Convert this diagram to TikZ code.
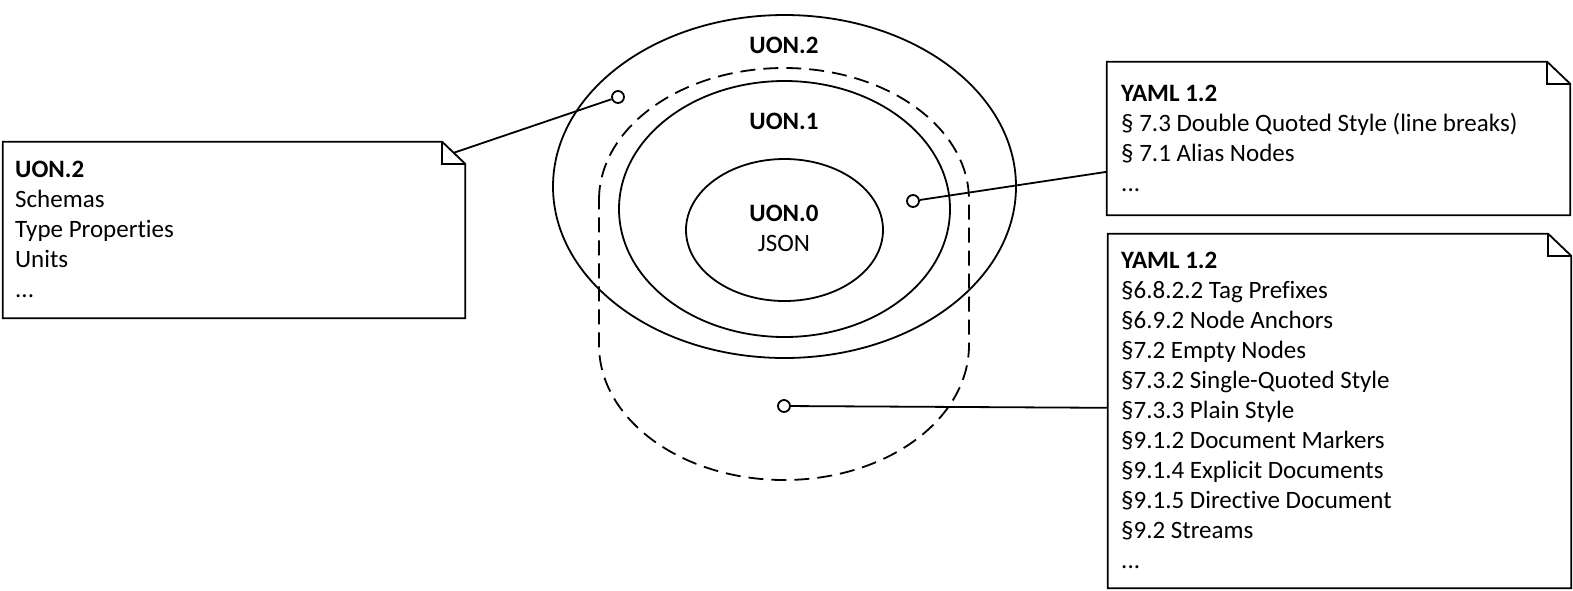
\documentclass[tikz,border=0pt]{standalone}
\usepackage{fontspec}
\setmainfont{Carlito}[Ligatures=NoCommon]
\usetikzlibrary{shapes.geometric,calc}
\tikzset{
  ln/.style={line width=1.8pt, black},
  notebox/.style={draw=none, rectangle, inner sep=0pt},
  oval/.style={ln, draw, ellipse, inner sep=0pt},
  marker/.style={ln, draw, circle, fill=white, minimum size=12pt, inner sep=0pt},
  notetext/.style={anchor=north west, inner sep=0pt, align=left, font=\fontsize{25}{30}\selectfont},
  lbl/.style={anchor=base, inner sep=0pt, font=\fontsize{25}{30}\selectfont},
}
\newcommand\noteoutline[1]{%
  \draw[ln, line join=miter] (#1.north west) -- ([xshift=-23pt]#1.north east) -- ([yshift=-22pt]#1.north east) -- (#1.south east) -- (#1.south west) -- cycle;
  \draw[ln] ([xshift=-23pt]#1.north east) |- ([yshift=-22pt]#1.north east);}
\begin{document}
\begin{tikzpicture}[x=1pt,y=1pt]
\useasboundingbox (0,0) rectangle (1573,-590);
% ellipses
\node[oval, minimum width=463pt, minimum height=343pt] (e2) at (784.5,-186.5) {};
\node[oval, minimum width=331pt, minimum height=256pt] (e1) at (784.5,-209) {};
\node[oval, minimum width=197pt, minimum height=142pt] (e0) at (784.5,-230) {};
% dashed region
\draw[ln, dash pattern=on 15pt off 8pt] (599,-200) arc[start angle=180, end angle=0, x radius=185, y radius=132]
  -- (969,-345) arc[start angle=0, end angle=-180, x radius=185, y radius=135] -- cycle;
% labels
\node[lbl] (l2) at (784,-53) {\textbf{UON.2}};
\node[lbl] (l1) at (784,-129) {\textbf{UON.1}};
\node[lbl] (l0) at (784,-221) {\textbf{UON.0}};
\node[lbl] (lj) at (784,-251) {JSON};
% notes
\node[notebox, minimum width=462pt, minimum height=176pt] (n1) at (234,-230) {};
\node[notebox, minimum width=463pt, minimum height=153pt] (n2) at (1338.5,-138.5) {};
\node[notebox, minimum width=463pt, minimum height=354pt] (n3) at (1339.5,-411) {};
\noteoutline{n1}
\noteoutline{n2}
\noteoutline{n3}
\node[notetext] (t1) at (15,-161) {\textbf{UON.2}\\Schemas\\Type Properties\\Units\\...};
\node[notetext] (t2) at (1121,-85) {\textbf{YAML 1.2}\\§ 7.3 Double Quoted Style (line breaks)\\§ 7.1 Alias Nodes\\...};
\node[notetext] (t3) at (1121,-252) {\textbf{YAML 1.2}\\§6.8.2.2 Tag Prefixes\\§6.9.2 Node Anchors\\§7.2 Empty Nodes\\§7.3.2 Single-Quoted Style\\§7.3.3 Plain Style\\§9.1.2 Document Markers\\§9.1.4 Explicit Documents\\§9.1.5 Directive Document\\§9.2 Streams\\...};
% attachment points
\coordinate (p1) at ($([xshift=-23pt]n1.north east)!0.5!([yshift=-22pt]n1.north east)$);
\coordinate (p2) at ($(n2.north west)+(0,-110)$);
\coordinate (p3) at ($(n3.north west)+(0,-174)$);
% markers
\node[marker] (c1) at (618,-97) {};
\node[marker] (c2) at (913,-201) {};
\node[marker] (c3) at (784,-406) {};
\draw[ln] (c1) -- (p1);
\draw[ln] (c2) -- (p2);
\draw[ln] (c3) -- (p3);
\end{tikzpicture}
\end{document}
